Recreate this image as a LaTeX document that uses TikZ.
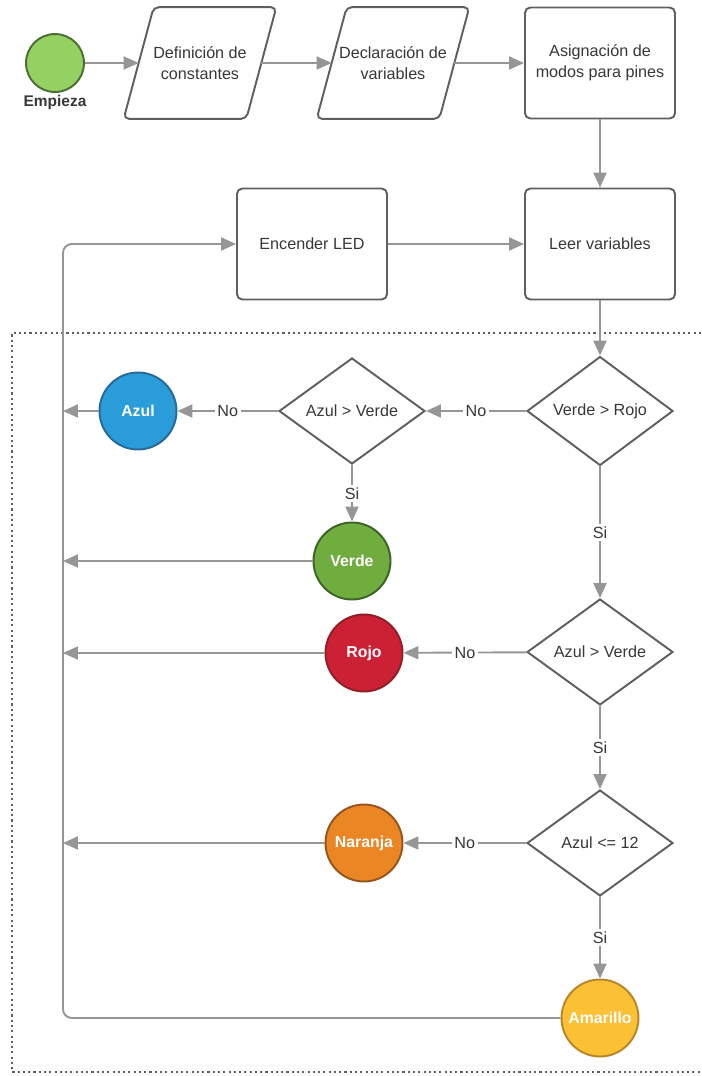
\documentclass[tikz,border=0pt]{standalone}
\usepackage{fontspec}
\setmainfont{Liberation Sans}
\usetikzlibrary{arrows.meta, positioning, shapes.geometric}
\usepackage{xcolor}
\definecolor{linecolor}{RGB}{150,150,150}
\definecolor{boxcolor}{RGB}{95,95,95}
\definecolor{textcolor}{RGB}{55,55,55}
\definecolor{startfill}{RGB}{148,208,98}
\definecolor{startborder}{RGB}{75,110,50}
\definecolor{azulfill}{RGB}{43,156,218}
\definecolor{azulborder}{RGB}{40,105,150}
\definecolor{verdefill}{RGB}{112,172,62}
\definecolor{verdeborder}{RGB}{60,100,40}
\definecolor{rojofill}{RGB}{204,32,52}
\definecolor{rojoborder}{RGB}{145,30,40}
\definecolor{naranjafill}{RGB}{234,135,36}
\definecolor{naranjaborder}{RGB}{150,85,30}
\definecolor{amarillofill}{RGB}{251,192,52}
\definecolor{amarilloborder}{RGB}{180,135,40}

\begin{document}
\begin{tikzpicture}[x=0.02cm, y=-0.02cm, every node/.style={font=\fontsize{9.2}{12}\selectfont, text=textcolor}, flow/.style={draw=linecolor, line width=1.1pt, -{Triangle[length=0.3cm, width=0.26cm]}},
    procbox/.style={rectangle, draw=boxcolor, line width=1.1pt, rounded corners=3pt, minimum width=3cm, minimum height=2.22cm, align=center},
    databox/.style={rectangle, minimum width=2.44cm, minimum height=2.22cm, inner sep=0pt, align=center},
    decision/.style={diamond, draw=boxcolor, line width=1.1pt, inner sep=0pt, minimum width=2.92cm, minimum height=2.12cm},
    colornode/.style={circle, line width=1.1pt, minimum size=1.54cm, inner sep=0pt, text=white, font=\fontsize{9}{11}\selectfont\bfseries},
    answer/.style={fill=white, inner sep=1.5pt}]
    \tikzstyle{frame} = [draw=boxcolor, line width=1.2pt, dash pattern=on 1.2pt off 1.8pt]
    \tikzstyle{dataline} = [draw=boxcolor, line width=1.1pt, rounded corners=3pt]

    \useasboundingbox (0,0) rectangle (701,1076);

    \node[circle, draw=startborder, fill=startfill, line width=1.1pt, minimum size=1.16cm] (start) at (55,63) {};
    \node[below=0.04cm of start, inner sep=0pt, font=\fontsize{8.8}{11}\selectfont\bfseries] (startlabel) {Empieza};

    \node[databox] (constantes) at (200,63) {Definición de\\constantes};
    \node[databox] (variables) at (393,63) {Declaración de\\variables};
    \foreach \p in {constantes, variables}
      \draw[dataline] ([xshift=0.3cm]\p.north west) -- ([xshift=0.3cm]\p.north east) -- ([xshift=-0.3cm]\p.south east) -- ([xshift=-0.3cm]\p.south west) -- cycle;

    \node[procbox] (pines) at (600,63) {Asignación de\\modos para pines};
    \node[procbox] (leer) at (600,244) {Leer variables};
    \node[procbox] (led) at (312,244) {Encender LED};
    \coordinate (loop) at (63,244);

    \node[decision] (verderojo) at (600,411) {Verde > Rojo};
    \node[decision] (azulverde) at (352,411) {Azul > Verde};
    \node[decision] (azulverdeb) at (600,652) {Azul > Verde};
    \node[decision] (azuldoce) at (600,843) {Azul <= 12};

    \node[colornode, fill=azulfill, draw=azulborder] (azul) at (138,411) {Azul};
    \node[colornode, fill=verdefill, draw=verdeborder] (verde) at (352,561) {Verde};
    \node[colornode, fill=rojofill, draw=rojoborder] (rojo) at (364,653) {Rojo};
    \node[colornode, fill=naranjafill, draw=naranjaborder] (naranja) at (364,843) {Naranja};
    \node[colornode, fill=amarillofill, draw=amarilloborder] (amarillo) at (600,1018) {Amarillo};

    \draw[frame] (701,333) -| (12,1072) -- (701,1072);

    \draw[flow] (start) -- (constantes);
    \draw[flow] (constantes) -- (variables);
    \draw[flow] (variables) -- (pines);
    \draw[flow] (pines) -- (leer);
    \draw[flow] (led) -- (leer);
    \draw[flow] (leer) -- (verderojo);

    \draw[flow] (verderojo) -- node[answer] (no1) {No} (azulverde);
    \draw[flow] (azulverde) -- node[answer] (no2) {No} (azul);
    \draw[flow] (azulverde) -- node[answer] (si1) {Si} (verde);
    \draw[flow] (verderojo) -- node[answer] (si2) {Si} (azulverdeb);
    \draw[flow] (azulverdeb) -- node[answer] (no3) {No} (rojo);
    \draw[flow] (azulverdeb) -- node[answer] (si3) {Si} (azuldoce);
    \draw[flow] (azuldoce) -- node[answer] (no4) {No} (naranja);
    \draw[flow] (azuldoce) -- node[answer] (si4) {Si} (amarillo);

    \foreach \c in {azul, verde, rojo, naranja}
      \draw[flow] (\c) -- (\c -| loop);
    \draw[flow, rounded corners=5pt] (amarillo) -| (loop) -- (led);

\end{tikzpicture}
\end{document}
